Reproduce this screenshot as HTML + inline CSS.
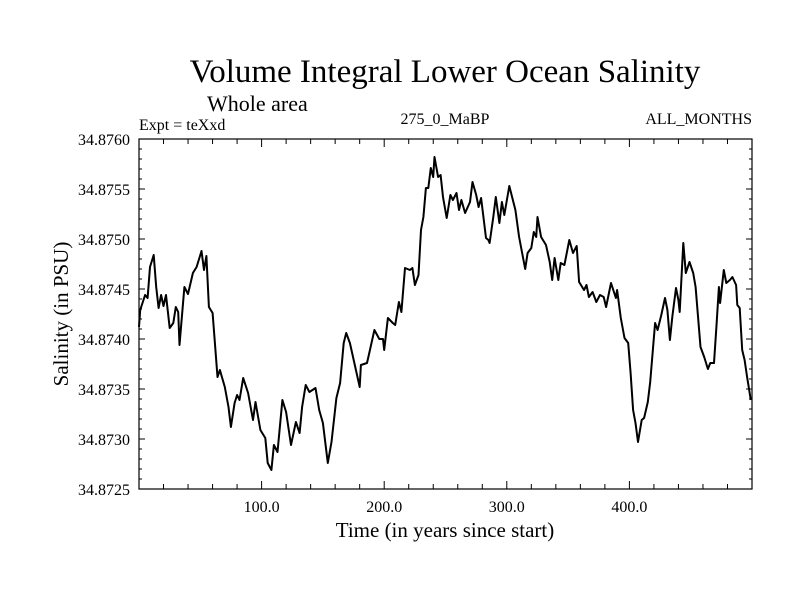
<!DOCTYPE html>
<html><head><meta charset="utf-8"><style>
body{margin:0;background:#fff}
svg{display:block;font-family:"Liberation Serif",serif}
</style></head><body>
<svg id="chart" width="800" height="600" viewBox="0 0 800 600" xmlns="http://www.w3.org/2000/svg">
<rect width="800" height="600" fill="#fff"/>
<text x="445" y="82" font-size="33" text-anchor="middle">Volume Integral Lower Ocean Salinity</text>
<text x="207" y="111" font-size="22">Whole area</text>
<text x="139" y="130" font-size="16">Expt = teXxd</text>
<text x="445" y="124" font-size="16" text-anchor="middle">275_0_MaBP</text>
<text x="752" y="124" font-size="16" text-anchor="end">ALL_MONTHS</text>
<text x="445" y="537" font-size="21" text-anchor="middle">Time (in years since start)</text>
<text x="0" y="0" font-size="21" text-anchor="middle" transform="translate(68,314) rotate(-90)">Salinity (in PSU)</text>
<g id="axes"></g>
<path id="series" fill="none" stroke="#000" stroke-width="2" stroke-linejoin="round"/>
<rect x="139" y="139" width="613" height="350" fill="none" stroke="#000" stroke-width="1.2"/>
</svg>
<script>
const years=[0,1,5,7,9,12,14,16,18,20,22,25,28,30,32,33,37,40,44,47,50,51,53,55,57,60,64,66,70,73,75,78,80,82,85,89,93,95,99,103,105,108,110,113,117,120,124,128,131,133,136,139,144,147,150,154,157,161,164,167,169,172,176,180,181,186,188,192,196,199,200,203,207,209,212,214,217,221,223,225,228,230,232,234,236,238,240,241,244,246,248,251,254,256,259,261,263,266,270,272,275,277,279,283,285,286,289,291,294,296,298,302,307,310,315,317,320,322,324,325,328,332,335,337,339,342,344,347,351,354,357,359,363,365,367,370,373,376,379,381,385,389,390,393,396,399,401,403,405,407,410,412,415,417,421,423,426,429,431,433,435,438,440,441,444,446,449,452,454,458,461,464,466,469,471,473,474,477,479,482,484,487,488,490,492,494,496,499];
const salinity=[34.87412,34.87429,34.87444,34.87441,34.87472,34.87484,34.87452,34.87431,34.87444,34.87433,34.87444,34.87411,34.87416,34.87432,34.87427,34.87394,34.87452,34.87445,34.87466,34.87472,34.87484,34.87488,34.87469,34.87483,34.87432,34.87426,34.87362,34.87369,34.87352,34.87332,34.87312,34.87336,34.87344,34.87339,34.87361,34.87346,34.87319,34.87337,34.87309,34.87301,34.87276,34.87269,34.87294,34.87287,34.87339,34.87327,34.87294,34.87317,34.87306,34.87332,34.87354,34.87347,34.87351,34.87329,34.87316,34.87276,34.87297,34.87341,34.87356,34.87396,34.87406,34.87396,34.87374,34.87352,34.87374,34.87376,34.87387,34.87409,34.87400,34.87400,34.87389,34.87421,34.87416,34.87414,34.87437,34.87427,34.87471,34.87469,34.87471,34.87454,34.87464,34.87509,34.87522,34.87551,34.87551,34.87571,34.87562,34.87582,34.87562,34.87564,34.87542,34.87521,34.87544,34.87539,34.87546,34.87529,34.87539,34.87526,34.87537,34.87557,34.87544,34.87532,34.87541,34.87501,34.87499,34.87496,34.87522,34.87542,34.87516,34.87537,34.87524,34.87553,34.87529,34.87502,34.87470,34.87486,34.87491,34.87507,34.87502,34.87522,34.87502,34.87494,34.87477,34.87459,34.87481,34.87459,34.87476,34.87474,34.87499,34.87486,34.87493,34.87457,34.87449,34.87454,34.87442,34.87447,34.87437,34.87444,34.87442,34.87432,34.87456,34.87441,34.87449,34.87421,34.87401,34.87396,34.87366,34.87329,34.87316,34.87297,34.87319,34.87321,34.87337,34.87357,34.87416,34.87409,34.87424,34.87441,34.87429,34.87399,34.87422,34.87451,34.87439,34.87427,34.87496,34.87466,34.87477,34.87466,34.87452,34.87392,34.87382,34.87370,34.87376,34.87376,34.87412,34.87452,34.87436,34.87469,34.87456,34.87459,34.87462,34.87454,34.87434,34.87431,34.87389,34.87379,34.87362,34.87339];
const xTickLabels=["100.0","200.0","300.0","400.0"];
const yTickLabels=["34.8725","34.8730","34.8735","34.8740","34.8745","34.8750","34.8755","34.8760"];

const L=139,R=752,T=139,B=489,X0=0,X1=500,Y0=34.8725,Y1=34.8760;
const xs=v=>L+(v-X0)/(X1-X0)*(R-L);
const ys=v=>B-(v-Y0)/(Y1-Y0)*(B-T);
const NS="http://www.w3.org/2000/svg";
const axes=document.getElementById('axes');
function ln(x1,y1,x2,y2,name){const e=document.createElementNS(NS,'line');e.setAttribute('x1',x1);e.setAttribute('y1',y1);e.setAttribute('x2',x2);e.setAttribute('y2',y2);e.setAttribute('stroke','#000');e.setAttribute('stroke-width','1');


axes.appendChild(e);}
function tx(x,y,s,anchor,name){const e=document.createElementNS(NS,'text');e.setAttribute('x',x);e.setAttribute('y',y);e.setAttribute('font-size','16');e.setAttribute('text-anchor',anchor);e.textContent=s;


axes.appendChild(e);}
for(let v=20;v<500;v+=20){const x=xs(v),maj=v%100===0,l=maj?8:5;ln(x,B,x,B-l,'x-tick');ln(x,T,x,T+l,'x-tick-top');}
xTickLabels.forEach(s=>tx(xs(parseFloat(s)),512,s,'middle','x-tick-label'));
for(let i=1;i<35;i++){const v=Y0+i*0.0001,y=ys(v),maj=i%5===0,l=maj?6:3;ln(L,y,L+l,y,'y-tick');ln(R,y,R-l,y,'y-tick-right');}
yTickLabels.forEach(s=>tx(130,ys(parseFloat(s))+6,s,'end','y-tick-label'));
document.getElementById('series').setAttribute('d',years.map((y,i)=>(i?'L':'M')+xs(y).toFixed(1)+','+ys(salinity[i]).toFixed(1)).join(''));
</script>
</body></html>
